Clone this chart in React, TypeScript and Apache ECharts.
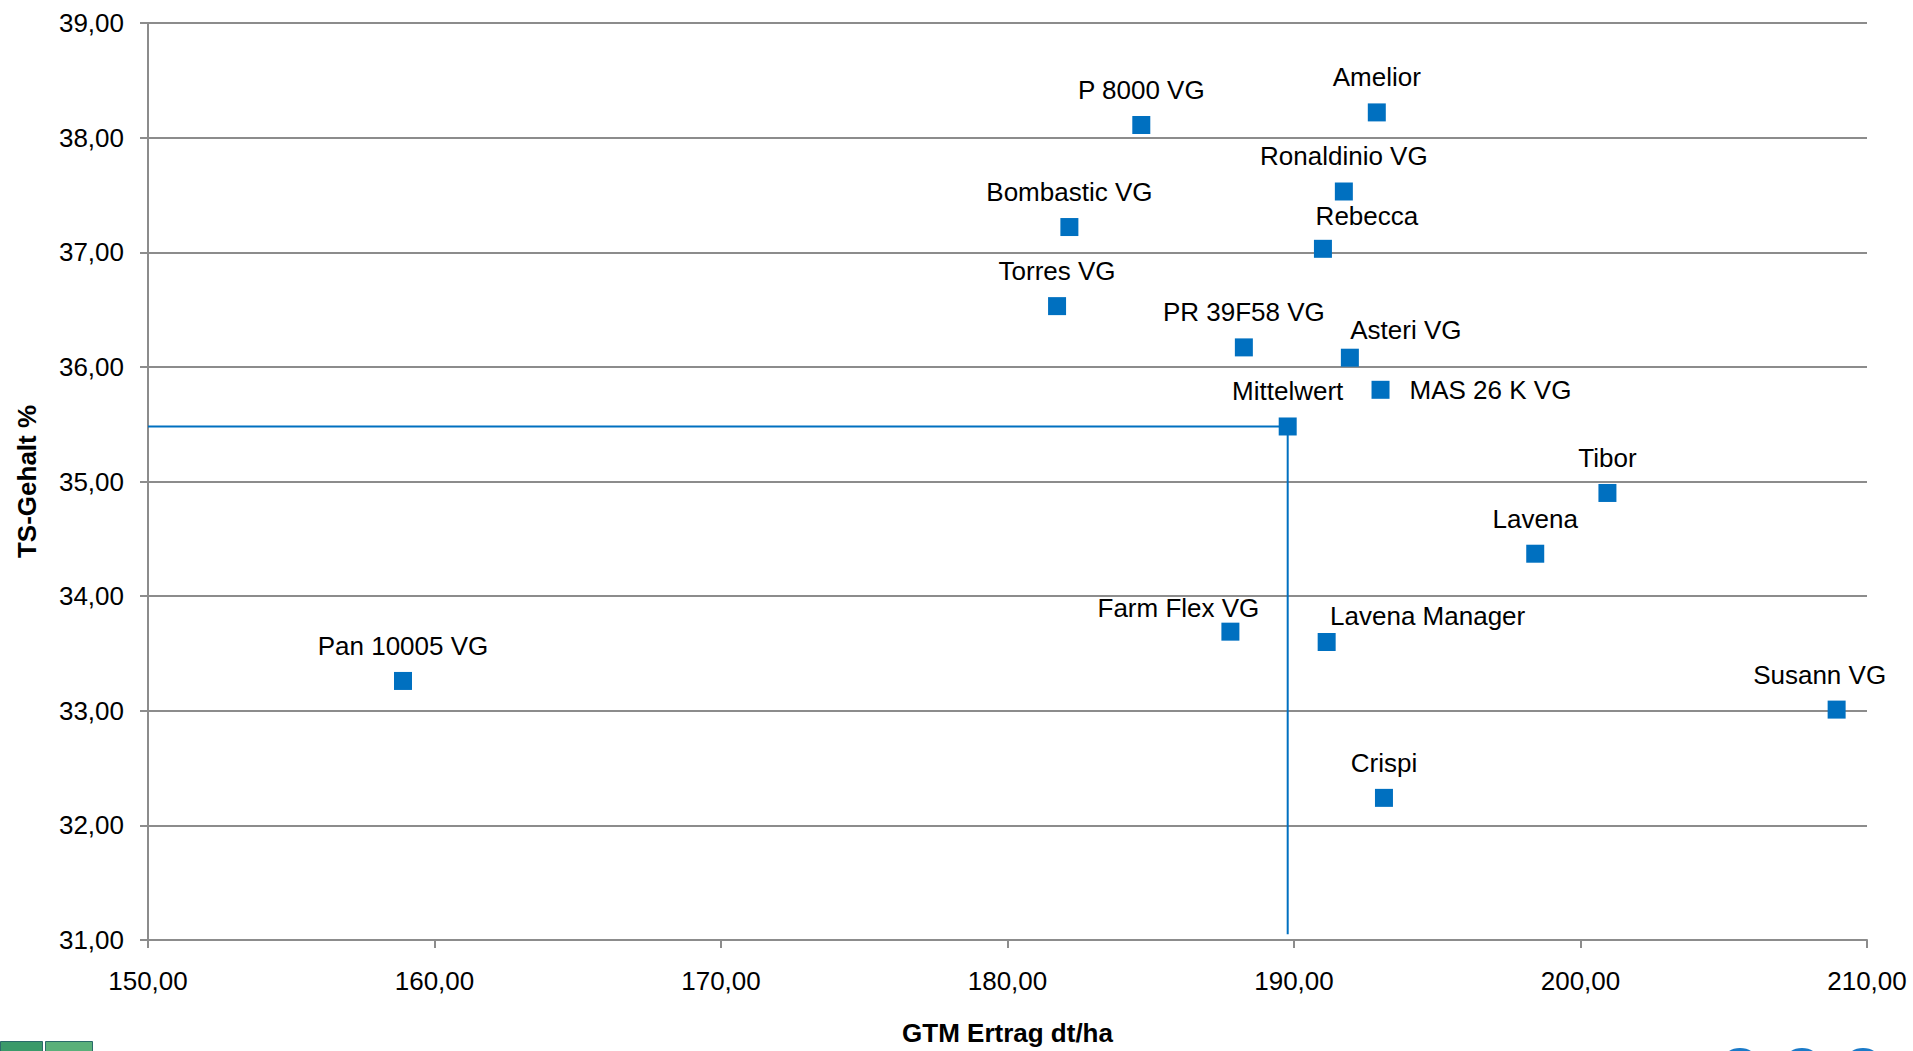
import React, { useEffect, useRef } from "react";
import * as echarts from "echarts";

const varieties = [
  "P 8000 VG", "Amelior", "Ronaldinio VG", "Bombastic VG", "Rebecca", "Torres VG",
  "PR 39F58 VG", "Asteri VG", "MAS 26 K VG", "Tibor", "Lavena", "Farm Flex VG",
  "Lavena Manager", "Pan 10005 VG", "Susann VG", "Crispi",
];
const gtmYield = [
  184.67, 192.89, 191.74, 182.16, 191.01, 181.73,
  188.25, 191.95, 193.02, 200.94, 198.42, 187.78,
  191.14, 158.9, 208.94, 193.14,
];
const tsContent = [
  38.11, 38.22, 37.53, 37.22, 37.03, 36.53,
  36.17, 36.08, 35.8, 34.9, 34.37, 33.69,
  33.6, 33.26, 33.01, 32.24,
];
const meanName = "Mittelwert";
const meanX = 189.78;
const meanY = 35.48;

const xMin = 150, xMax = 210, xStep = 10;
const yMin = 31, yMax = 39, yStep = 1;
const xAxisTitle = "GTM Ertrag dt/ha";
const yAxisTitle = "TS-Gehalt %";

// label placement tweaks (pixels), keyed by name
const labelTweaks: Record<string, { position?: string; offset?: number[] }> = {
  "Rebecca": { offset: [44, 2] },
  "Asteri VG": { offset: [56, 7] },
  "MAS 26 K VG": { position: "right" },
  "Farm Flex VG": { offset: [-52, 11] },
  "Lavena Manager": { offset: [101, 9] },
  "Susann VG": { offset: [-17, 0] },
};

const BLUE = "#0070C0";
const GRAY = "#8c8c8c";
const FONT = "'Liberation Sans', Arial, sans-serif";

const fmt = (v: number) => v.toFixed(2).replace(".", ",");

export default function App() {
  const ref = useRef<HTMLDivElement>(null);
  useEffect(() => {
    if (!ref.current) return;
    const chart = echarts.init(ref.current, null, { renderer: "svg" });

    const points = varieties.map((name, i) => {
      const t = labelTweaks[name] || {};
      return {
        name,
        value: [gtmYield[i], tsContent[i]],
        label: {
          position: t.position || "top",
          offset: t.offset || [0, 0],
          distance: t.position === "right" ? 20 : 13,
        },
      };
    });
    points.push({
      name: meanName,
      value: [meanX, meanY],
      label: { position: "top", offset: [0, 0], distance: 13 },
    });

    chart.setOption({
      animation: false,
      textStyle: { fontFamily: FONT },
      grid: { left: 148, top: 23, right: 46, bottom: 106, containLabel: false },
      xAxis: {
        type: "value",
        min: xMin,
        max: xMax,
        interval: xStep,
        name: xAxisTitle,
        nameLocation: "middle",
        nameGap: 80,
        nameTextStyle: { fontSize: 26, fontWeight: "bold", color: "#000", fontFamily: FONT },
        axisLine: { show: true, lineStyle: { color: GRAY, width: 2 } },
        axisTick: { show: true, inside: false, length: 8, lineStyle: { color: GRAY, width: 2 } },
        axisLabel: { fontSize: 26, color: "#000", margin: 28, formatter: fmt, fontFamily: FONT },
        splitLine: { show: false },
      },
      yAxis: {
        type: "value",
        min: yMin,
        max: yMax,
        interval: yStep,
        name: yAxisTitle,
        nameLocation: "middle",
        nameGap: 108,
        nameRotate: 90,
        nameTextStyle: { fontSize: 26, fontWeight: "bold", color: "#000", fontFamily: FONT },
        axisLine: { show: true, lineStyle: { color: GRAY, width: 2 } },
        axisTick: { show: true, inside: false, length: 8, lineStyle: { color: GRAY, width: 2 } },
        axisLabel: { fontSize: 26, color: "#000", margin: 24, formatter: fmt, fontFamily: FONT },
        splitLine: { show: true, lineStyle: { color: GRAY, width: 2 } },
      },
      series: [
        {
          type: "line",
          data: [
            [xMin, meanY],
            [meanX, meanY],
            [meanX, yMin + 0.05],
          ],
          showSymbol: false,
          symbol: "none",
          lineStyle: { color: BLUE, width: 2 },
          silent: true,
          z: 1,
        },
        {
          type: "scatter",
          symbol: "rect",
          symbolSize: 18,
          itemStyle: { color: BLUE, opacity: 1 },
          data: points,
          label: {
            show: true,
            formatter: "{b}",
            fontSize: 26,
            color: "#000",
            fontFamily: FONT,
          },
          z: 3,
        },
      ],
      graphic: [
        { type: "rect", left: 0, top: 1041, shape: { width: 42, height: 10 }, style: { fill: "#3a9a6a", stroke: "#2a6a6a", lineWidth: 1 } },
        { type: "rect", left: 45, top: 1041, shape: { width: 47, height: 10 }, style: { fill: "#5ab07a", stroke: "#2a6a6a", lineWidth: 1 } },
        { type: "ellipse", shape: { cx: 1740, cy: 1056, rx: 14, ry: 8 }, style: { fill: "#1a7ac8" } },
        { type: "ellipse", shape: { cx: 1802, cy: 1056, rx: 14, ry: 8 }, style: { fill: "#1a7ac8" } },
        { type: "ellipse", shape: { cx: 1863, cy: 1056, rx: 14, ry: 8 }, style: { fill: "#1a7ac8" } },
      ],
    });
    return () => chart.dispose();
  }, []);
  return (
    <div
      ref={ref}
      style={{ position: "absolute", left: 0, top: 0, width: 1913, height: 1051, background: "#fff" }}
    />
  );
}
